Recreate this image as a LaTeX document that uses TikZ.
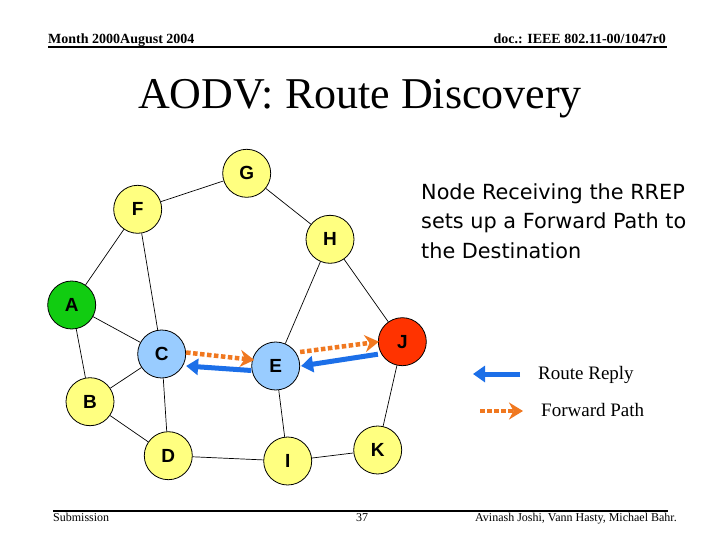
\documentclass[tikz,border=0pt]{standalone}
\usepackage{fontspec}
\setmainfont{Liberation Serif}
\newfontfamily\arialfont{Liberation Sans}
\newfontfamily\notefont{DejaVu Sans}
\usetikzlibrary{arrows.meta}

\definecolor{nodeyellow}{HTML}{FFFF80}
\definecolor{nodegreen}{HTML}{11CC11}
\definecolor{nodeblue}{HTML}{99CCFF}
\definecolor{nodered}{HTML}{FF3300}
\definecolor{replyblue}{HTML}{1C6FE8}
\definecolor{fwdorange}{HTML}{F07820}

\begin{document}
\begin{tikzpicture}
    [
    x = 1pt, y = -1pt,
    station/.style  = {circle, draw, line width=0.8pt, minimum size=48pt, inner sep=0pt,
                       fill=nodeyellow, font=\arialfont\bfseries\fontsize{19}{19}\selectfont},
    link/.style     = {draw, line width=0.7pt},
    rrep/.style     = {draw=replyblue, line width=5pt,
                       -{Triangle[length=12pt, width=16pt]}},
    fwdpath/.style  = {draw=fwdorange, line width=4.5pt, dash pattern=on 4.5pt off 2.5pt,
                       -{Stealth[length=14pt, width=17pt, inset=4.5pt]}}
    ]
    \useasboundingbox (0,0) rectangle (720,540);

    % header and footer
    \node [anchor=base west, inner sep=0pt, font=\bfseries\fontsize{14}{14}\selectfont]
        (month) at (48,44) {Month 2000August 2004};
    \node [anchor=base east, inner sep=0pt, font=\bfseries\fontsize{14}{14}\selectfont]
        (doc) at (666,44) {doc.: IEEE 802.11-00/1047r0};
    \draw [line width=2pt] (48,47.5) -- (667,47.5);
    \node [font=\fontsize{44}{44}\selectfont] (title) at (360,99) {AODV: Route Discovery};
    \draw [line width=2pt] (53,510.5) -- (668,510.5);
    \node [anchor=base west, inner sep=0pt, font=\fontsize{12}{12}\selectfont]
        (subm) at (53,521) {Submission};
    \node [anchor=base, inner sep=0pt, font=\fontsize{12}{12}\selectfont]
        (page) at (362,521) {37};
    \node [anchor=base east, inner sep=0pt, font=\fontsize{12}{12}\selectfont]
        (authors) at (677,521) {Avinash Joshi, Vann Hasty, Michael Bahr.};

    % network
    \node [station] (G) at (246.7,173.3) {G};
    \node [station] (F) at (137.7,209.3) {F};
    \node [station] (H) at (330,239.3) {H};
    \node [station, fill=nodegreen] (A) at (71.7,305) {A};
    \node [station, fill=nodeblue] (C) at (161.7,354) {C};
    \node [station, fill=nodeblue] (E) at (275.7,366) {E};
    \node [station, fill=nodered] (J) at (402.3,341.7) {J};
    \node [station] (B) at (90,401.7) {B};
    \node [station] (D) at (168.3,455.7) {D};
    \node [station] (I) at (287.7,461) {I};
    \node [station] (K) at (377.7,450) {K};

    \path [link] (F) -- (G)  (G) -- (H)  (F) -- (A)  (F) -- (C)
                 (H) -- (E)  (H) -- (J)  (A) -- (C)  (A) -- (B)
                 (B) -- (C)  (C) -- (D)  (B) -- (D)  (E) -- (I)
                 (D) -- (I)  (I) -- (K)  (K) -- (J);

    % reply and forward path
    \draw [fwdpath] ([yshift=1.5pt]C.east) -- ([xshift=3pt,yshift=6pt]E.west);
    \draw [rrep] ([yshift=-4.5pt]E.west) -- ([yshift=-12pt]C.east);
    \draw [fwdpath] ([yshift=14pt]E.east) -- ([xshift=1pt]J.west);
    \draw [rrep] ([yshift=-12.5pt]J.west) -- ([xshift=1pt]E.east);

    % note
    \node [anchor=north west, inner sep=0pt, align=left,
           font=\notefont\fontsize{20.8}{29.5}\selectfont]
        (note) at (421,183) {Node Receiving the RREP\\sets up a Forward Path to\\the Destination};

    % legend
    \coordinate (replyA) at (520,374);
    \coordinate (replyB) at (473,374);
    \coordinate (fwdA) at (480,411);
    \coordinate (fwdB) at (523,411);
    \draw [rrep] (replyA) -- (replyB);
    \draw [fwdpath] (fwdA) -- (fwdB);
    \node [anchor=base west, inner sep=0pt, font=\fontsize{19}{19}\selectfont]
        (replylabel) at (538,379) {Route Reply};
    \node [anchor=base west, inner sep=0pt, font=\fontsize{19}{19}\selectfont]
        (fwdlabel) at (541,416) {Forward Path};
\end{tikzpicture}
\end{document}
